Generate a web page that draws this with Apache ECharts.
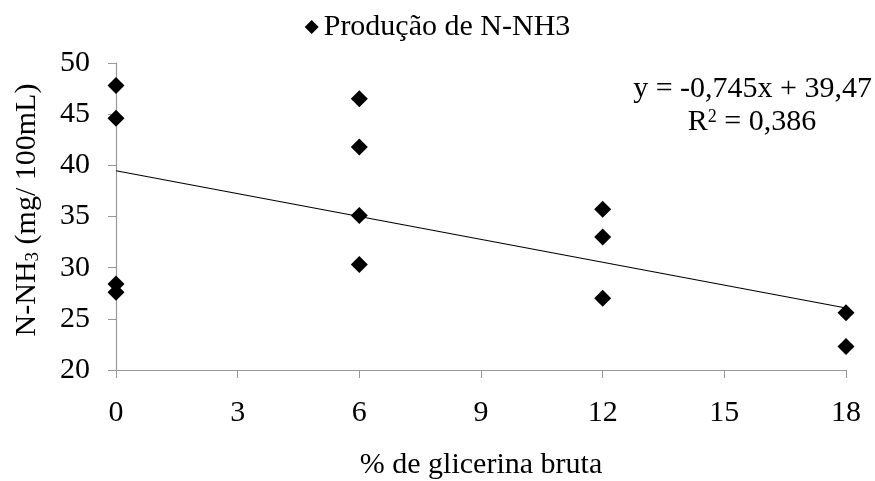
<!DOCTYPE html>
<html><head><meta charset="utf-8">
<script src="https://cdn.jsdelivr.net/npm/echarts@6/dist/echarts.min.js"></script>
<style>html,body{margin:0;padding:0;background:#fff}#c{width:875px;height:481px}</style>
</head><body><div id="c"></div>
<script>
const glicerina = [0, 0, 0, 0, 6, 6, 6, 6, 12, 12, 12, 18, 18];
const nnh3 = [47.8, 44.6, 28.4, 27.6, 46.5, 41.8, 35.1, 30.3, 35.7, 33.0, 27.0, 25.6, 22.3];
const trendX = [0, 18];
const trendY = [39.47, 26.06];
const xTicks = [0, 3, 6, 9, 12, 15, 18];
const yTicks = [20, 25, 30, 35, 40, 45, 50];

const F = '"Liberation Serif", "Times New Roman", serif';
const FS = 30;
const chart = echarts.init(document.getElementById('c'));
chart.setOption({
  animation: false,
  backgroundColor: '#fff',
  textStyle: { fontFamily: F, color: '#000' },
  legend: {
    top: 7, left: 'center',
    data: [{ name: 'Produção de N-NH3', icon: 'diamond' }],
    itemWidth: 14, itemHeight: 14, itemGap: 6,
    textStyle: { fontFamily: F, fontSize: FS, color: '#000' }
  },
  grid: { left: 116, right: 29, top: 63, bottom: 111, containLabel: false, outerBoundsMode: 'none' },
  xAxis: {
    type: 'value', min: xTicks[0], max: xTicks[xTicks.length - 1], interval: 3,
    name: '% de glicerina bruta', nameLocation: 'middle', nameGap: 80,
    nameTextStyle: { fontFamily: F, fontSize: FS, color: '#000' },
    axisLine: { lineStyle: { color: '#999', width: 1.2 } },
    axisTick: { show: true, length: 8, lineStyle: { color: '#999' } },
    axisLabel: { margin: 28, fontFamily: F, fontSize: FS, color: '#000' },
    splitLine: { show: false }
  },
  yAxis: {
    type: 'value', min: yTicks[0], max: yTicks[yTicks.length - 1], interval: 5,
    axisLine: { show: true, lineStyle: { color: '#999', width: 1.2 } },
    axisTick: { show: true, length: 8, lineStyle: { color: '#999' } },
    axisLabel: { margin: 26, fontFamily: F, fontSize: FS, color: '#000' },
    splitLine: { show: false }
  },
  graphic: [
    {
      type: 'text', x: 27, y: 210, rotation: Math.PI / 2,
      style: {
        text: '{a|N-NH}{s|3}{a| (mg/ 100mL)}',
        align: 'center', verticalAlign: 'middle',
        rich: {
          a: { fontFamily: F, fontSize: FS, fill: '#000', lineHeight: 32 },
          s: { fontFamily: F, fontSize: 19, fill: '#000', lineHeight: 32, padding: [12, 0, 0, 0] }
        }
      }
    },
    {
      type: 'text', x: 872, y: 89,
      style: { text: 'y = -0,745x + 39,47', align: 'right', verticalAlign: 'middle', fontFamily: F, fontSize: FS, fill: '#000' }
    },
    {
      type: 'text', x: 752, y: 122,
      style: {
        text: '{a|R}{p|2}{a| = 0,386}', align: 'center', verticalAlign: 'middle',
        rich: {
          a: { fontFamily: F, fontSize: FS, fill: '#000', lineHeight: 32 },
          p: { fontFamily: F, fontSize: 18, fill: '#000', lineHeight: 32, padding: [0, 0, 10, 0] }
        }
      }
    }
  ],
  series: [
    {
      name: 'Linear (Produção de N-NH3)', type: 'line',
      data: trendX.map((x, i) => [x, trendY[i]]),
      symbol: 'none', lineStyle: { color: '#000', width: 1.2 }, z: 1, silent: true
    },
    {
      name: 'Produção de N-NH3', type: 'scatter',
      data: glicerina.map((x, i) => [x, nnh3[i]]),
      symbol: 'diamond', symbolSize: 17,
      itemStyle: { color: '#000', opacity: 1 }, z: 2
    }
  ]
});
</script></body></html>
